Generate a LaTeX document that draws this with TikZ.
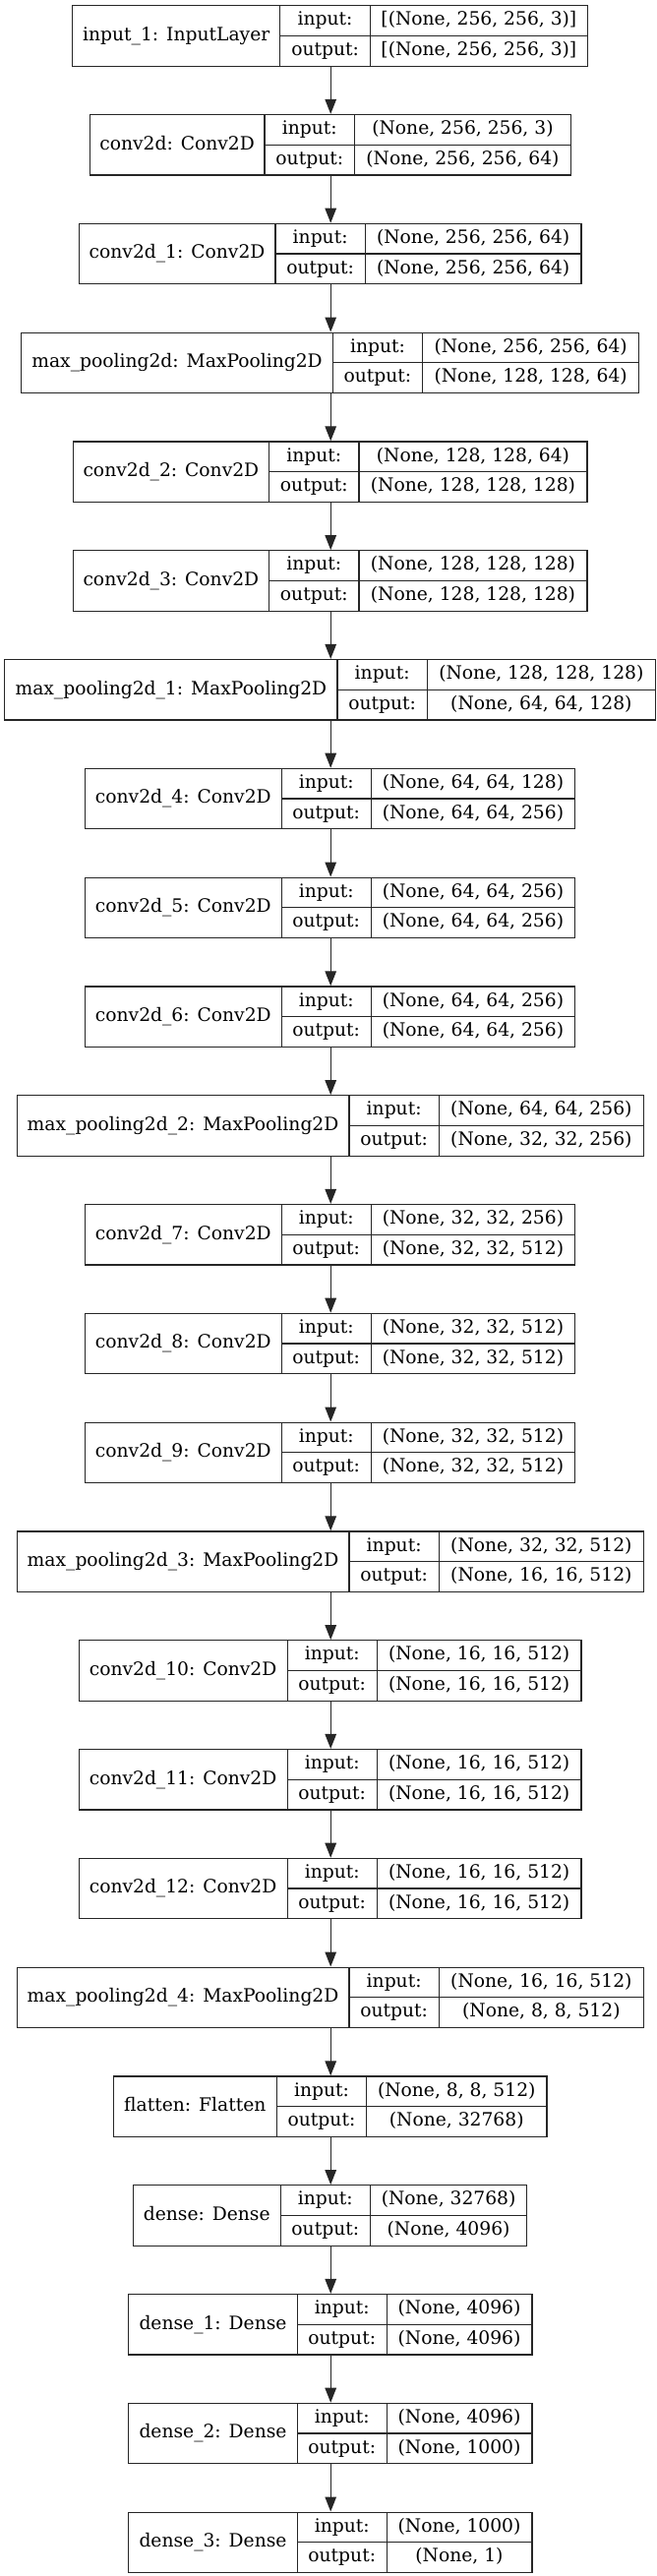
\documentclass[tikz,border=0pt]{standalone}
\usepackage{fontspec}
\setmainfont{DejaVu Serif}
\usetikzlibrary{arrows.meta}
\tikzset{
  lbox/.style={draw=black!85, line width=1.2pt, inner sep=0pt, rectangle, minimum height=61.4pt},
  cellline/.style={draw=black!85, line width=1.2pt},
  txt/.style={anchor=base, inner sep=0pt, font=\fontsize{18.7}{22}\selectfont},
  conn/.style={draw=black!85, line width=1.2pt, -{Triangle[length=15pt,width=11.5pt]}}
}
% #1 index, #2 left, #3 divider 1, #4 divider 2, #5 right, #6 label, #7 input, #8 output
\newcommand{\lay}[8]{%
  \pgfmathsetmacro{\lyT}{5.7+110.8*#1}%
  \pgfmathsetmacro{\lyW}{#5-#2}%
  \pgfmathsetmacro{\lyX}{(#5+#2)/2}%
  \pgfmathsetmacro{\lyY}{\lyT+30.7}%
  \pgfmathsetmacro{\lyB}{\lyT+61.4}%
  \node[lbox, minimum width=\lyW pt] (L#1) at (\lyX,\lyY) {};
  \draw[cellline] (#3,\lyT) -- (#3,\lyB) (#4,\lyT) -- (#4,\lyB) (#3,\lyY) -- (#5,\lyY);
  \node[txt] at ({(#2+#3)/2},{\lyY+4.8}) {#6};
  \node[txt] at ({(#3+#4)/2},{\lyT+20.1}) {input:};
  \node[txt] at ({(#3+#4)/2},{\lyT+50.8}) {output:};
  \node[txt] at ({(#4+#5)/2},{\lyT+20.1}) {#7};
  \node[txt] at ({(#4+#5)/2},{\lyT+50.8}) {#8};
}
\begin{document}
\begin{tikzpicture}[x=1pt,y=-1pt]
\useasboundingbox[fill=white] (0,0) rectangle (668,2619);
\coordinate (ax) at (336.2,0);
\lay{0}{73.7}{284.8}{376.4}{597.4}{input\_1: InputLayer}{[(None, 256, 256, 3)]}{[(None, 256, 256, 3)]}
\lay{1}{91.2}{269}{360.6}{580.3}{conv2d: Conv2D}{(None, 256, 256, 3)}{(None, 256, 256, 64)}
\lay{2}{80.1}{280}{371.3}{591}{conv2d\_1: Conv2D}{(None, 256, 256, 64)}{(None, 256, 256, 64)}
\lay{3}{21.8}{338.3}{429.6}{649.7}{max\_pooling2d: MaxPooling2D}{(None, 256, 256, 64)}{(None, 128, 128, 64)}
\lay{4}{74.1}{273.7}{364.9}{597}{conv2d\_2: Conv2D}{(None, 128, 128, 64)}{(None, 128, 128, 128)}
\lay{5}{74.1}{273.7}{364.9}{597}{conv2d\_3: Conv2D}{(None, 128, 128, 128)}{(None, 128, 128, 128)}
\lay{6}{4.7}{343}{434.3}{666.4}{max\_pooling2d\_1: MaxPooling2D}{(None, 128, 128, 128)}{(None, 64, 64, 128)}
\lay{7}{86.5}{286.1}{377.3}{584.6}{conv2d\_4: Conv2D}{(None, 64, 64, 128)}{(None, 64, 64, 256)}
\lay{8}{86.5}{286.1}{377.3}{584.6}{conv2d\_5: Conv2D}{(None, 64, 64, 256)}{(None, 64, 64, 256)}
\lay{9}{86.5}{286.1}{377.3}{584.6}{conv2d\_6: Conv2D}{(None, 64, 64, 256)}{(None, 64, 64, 256)}
\lay{10}{17.1}{355}{446.3}{654.4}{max\_pooling2d\_2: MaxPooling2D}{(None, 64, 64, 256)}{(None, 32, 32, 256)}
\lay{11}{86.5}{286.1}{377.3}{584.6}{conv2d\_7: Conv2D}{(None, 32, 32, 256)}{(None, 32, 32, 512)}
\lay{12}{86.5}{286.1}{377.3}{584.6}{conv2d\_8: Conv2D}{(None, 32, 32, 512)}{(None, 32, 32, 512)}
\lay{13}{86.5}{286.1}{377.3}{584.6}{conv2d\_9: Conv2D}{(None, 32, 32, 512)}{(None, 32, 32, 512)}
\lay{14}{17.1}{355}{446.3}{654.4}{max\_pooling2d\_3: MaxPooling2D}{(None, 32, 32, 512)}{(None, 16, 16, 512)}
\lay{15}{80.1}{292.1}{383.3}{591}{conv2d\_10: Conv2D}{(None, 16, 16, 512)}{(None, 16, 16, 512)}
\lay{16}{80.1}{292.1}{383.3}{591}{conv2d\_11: Conv2D}{(None, 16, 16, 512)}{(None, 16, 16, 512)}
\lay{17}{80.1}{292.1}{383.3}{591}{conv2d\_12: Conv2D}{(None, 16, 16, 512)}{(None, 16, 16, 512)}
\lay{18}{17.1}{355}{446.3}{654.4}{max\_pooling2d\_4: MaxPooling2D}{(None, 16, 16, 512)}{(None, 8, 8, 512)}
\lay{19}{115.2}{281.4}{372.6}{555.9}{flatten: Flatten}{(None, 8, 8, 512)}{(None, 32768)}
\lay{20}{135.3}{285.2}{376.4}{535.8}{dense: Dense}{(None, 32768)}{(None, 4096)}
\lay{21}{130.6}{302.4}{393.1}{540.9}{dense\_1: Dense}{(None, 4096)}{(None, 4096)}
\lay{22}{130.6}{302.4}{393.1}{540.9}{dense\_2: Dense}{(None, 4096)}{(None, 1000)}
\lay{23}{130.6}{302.4}{393.1}{540.9}{dense\_3: Dense}{(None, 1000)}{(None, 1)}
\foreach \i in {0,...,22}{
  \pgfmathtruncatemacro{\j}{\i+1}
  \draw[conn] (L\i.south -| ax) -- (L\j.north -| ax);
}
\end{tikzpicture}
\end{document}
